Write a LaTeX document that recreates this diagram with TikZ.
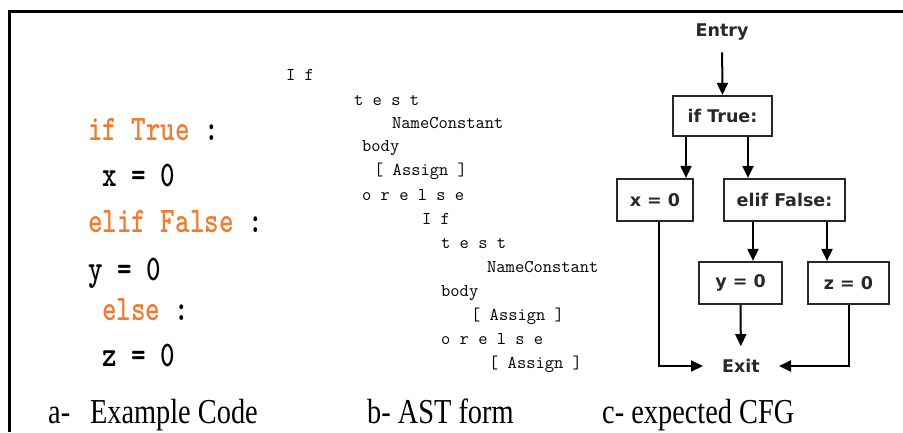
\documentclass[tikz,border=0pt]{standalone}
\usepackage{fontspec}
\usepackage{graphicx}
\usetikzlibrary{arrows.meta}
\newfontfamily\cfgfont{DejaVu Sans}
\newfontfamily\capfont{Liberation Serif}
\definecolor{kw}{RGB}{237,125,49}
\definecolor{ink}{RGB}{40,40,40}
\newcommand\narrowcode[1]{\scalebox{0.77}[1]{#1}}
\newcommand\narrowcap[1]{\scalebox{0.81}[1]{#1}}

\begin{document}
\begin{tikzpicture}[x=1pt,y=-1pt,
  codeln/.style={anchor=base west, inner sep=0pt,
    font=\fontsize{36}{40}\selectfont\ttfamily\bfseries},
  astln/.style={anchor=base west, inner sep=0pt,
    font=\fontsize{18}{20}\selectfont\ttfamily, text=black},
  cfgbox/.style={draw=ink, line width=2.2pt, fill=white, text=ink,
    font=\cfgfont\bfseries\fontsize{17.5}{20}\selectfont,
    minimum height=42pt, inner sep=0pt},
  cfglbl/.style={text=ink, inner sep=0pt,
    font=\cfgfont\bfseries\fontsize{17.5}{20}\selectfont},
  arr/.style={draw=black, line width=2pt,
    -{Triangle[length=12pt,width=11pt]}},
  captxt/.style={anchor=base west, inner sep=0pt,
    font=\capfont\fontsize{35}{40}\selectfont}
]
\useasboundingbox (0,0) rectangle (903,432);
\fill[white] (0,0) rectangle (903,432);

% frame
\draw[line width=3pt] (9,432) -- (9,11) -- (903,11);

% example code
\node[codeln] (c1) at (88,140) {\narrowcode{\textcolor{kw}{if True} :}};
\node[codeln] (c2) at (102,186) {\narrowcode{x = 0}};
\node[codeln] (c3) at (88,232) {\narrowcode{\textcolor{kw}{elif False} :}};
\node[codeln] (c4) at (88,280) {\narrowcode{y = 0}};
\node[codeln] (c5) at (102,320) {\narrowcode{\textcolor{kw}{else} :}};
\node[codeln] (c6) at (102,366) {\narrowcode{z = 0}};

% AST dump
\node[astln] (a1)  at (286,80)  {I f};
\node[astln] (a2)  at (354,105) {t e s t};
\node[astln] (a3)  at (392,128) {NameConstant};
\node[astln] (a4)  at (362,151) {body};
\node[astln] (a5)  at (374,175) {[ Assign ]};
\node[astln] (a6)  at (362,200) {o r e l s e};
\node[astln] (a7)  at (422,224) {I f};
\node[astln] (a8)  at (441,248) {t e s t};
\node[astln] (a9)  at (487,272) {NameConstant};
\node[astln] (a10) at (441,296) {body};
\node[astln] (a11) at (471,320) {[ Assign ]};
\node[astln] (a12) at (441,344) {o r e l s e};
\node[astln] (a13) at (489,368) {[ Assign ]};

% control flow graph
\node[cfglbl] (entry) at (722,32) {Entry};
\node[cfgbox, minimum width=99pt, minimum height=40pt] (iftrue) at (722.5,116) {if True:};
\node[cfgbox, minimum width=76pt]  (xa)   at (655,200)   {x = 0};
\node[cfgbox, minimum width=121pt] (elif) at (784.5,200) {elif False:};
\node[cfgbox, minimum width=83pt]  (ya)   at (740.5,283) {y = 0};
\node[cfgbox, minimum width=81pt]  (za)   at (848.5,283) {z = 0};
\node[cfglbl] (exit) at (741,366) {Exit};

\draw[arr, shorten <=12pt] (entry.south) -- (iftrue.north);
\draw[arr] ([xshift=-36.5pt]iftrue.south) -- ([xshift=-36.5pt]iftrue.south |- xa.north);
\draw[arr] ([xshift=25.5pt]iftrue.south) -- ([xshift=25.5pt]iftrue.south |- elif.north);
\draw[arr] ([xshift=-31.5pt]elif.south) -- ([xshift=-31.5pt]elif.south |- ya.north);
\draw[arr] ([xshift=42.5pt]elif.south) -- ([xshift=42.5pt]elif.south |- za.north);
\draw[arr, shorten >=13pt] (ya.south) -- (exit.north);
\draw[arr, shorten >=19pt] ([xshift=4pt]xa.south) |- (exit.west);
\draw[arr, shorten >=19pt] (za.south) |- (exit.east);

% captions
\node[captxt] (capa) at (48,423)  {\narrowcap{a-\hspace{0.7em}Example Code}};
\node[captxt] (capb) at (367,423) {\narrowcap{b- AST form}};
\node[captxt] (capc) at (602,423) {\narrowcap{c- expected CFG}};
\end{tikzpicture}
\end{document}
